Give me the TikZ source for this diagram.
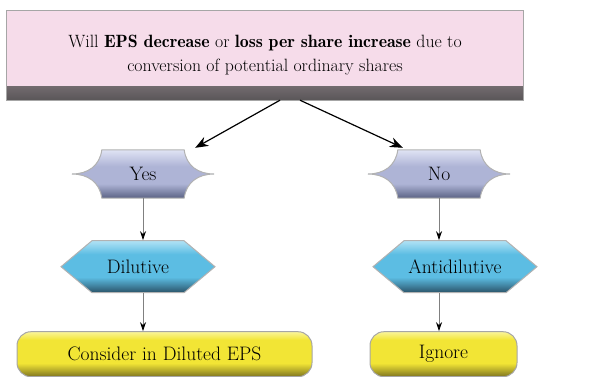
\documentclass[tikz,border=0pt]{standalone}
\usepackage{tikz}
\usetikzlibrary{arrows.meta,positioning,shapes.symbols,backgrounds}
\definecolor{qpink}{HTML}{F6DCEA}
\definecolor{qgray}{HTML}{5A5658}
\definecolor{ansTop}{HTML}{E0E3F4}
\definecolor{ansMid}{HTML}{AEB4D6}
\definecolor{ansBot}{HTML}{5A6284}
\definecolor{resTop}{HTML}{B0E2F5}
\definecolor{resMid}{HTML}{5CBDE3}
\definecolor{resBot}{HTML}{2A5268}
\definecolor{actTop}{HTML}{FAF59A}
\definecolor{actMid}{HTML}{F2E535}
\definecolor{actBot}{HTML}{7E7420}
\pgfdeclareverticalshading{ansshade}{100bp}{color(0bp)=(ansBot); color(25bp)=(ansBot); color(40bp)=(ansMid); color(58bp)=(ansMid); color(75bp)=(ansTop); color(100bp)=(ansTop)}
\pgfdeclareverticalshading{resshade}{100bp}{color(0bp)=(resBot); color(25bp)=(resBot); color(40bp)=(resMid); color(62bp)=(resMid); color(75bp)=(resTop); color(100bp)=(resTop)}
\pgfdeclareverticalshading{actshade}{100bp}{color(0bp)=(actBot); color(25bp)=(actBot); color(40bp)=(actMid); color(66bp)=(actMid); color(75bp)=(actTop); color(100bp)=(actTop)}
\newcommand{\demi}[1]{{\fontseries{b}\selectfont #1}}

\begin{document}
\begin{tikzpicture}[x=1pt, y=1pt, >=Stealth, font=\fontsize{19.5}{24}\selectfont,
    question/.style={rectangle, draw=gray!70, fill=qpink, minimum width=517, minimum height=90, align=center,
      font=\fontsize{17.8}{24}\selectfont,
      path picture={\shade[top color=qpink, bottom color=qgray] ([yshift=14]path picture bounding box.south west) rectangle (path picture bounding box.south east);}},
    answer/.style={rectangle, minimum width=82, minimum height=48, inner sep=0pt},
    result/.style={signal, signal to=east and west, signal pointer angle=80, draw=gray!60, line width=1pt,
      shading=resshade, minimum height=52, inner sep=2pt},
    action/.style={rectangle, rounded corners=14, draw=gray!70, line width=1pt,
      shading=actshade, minimum height=45},
    split/.style={line width=1.2pt, -{Stealth[length=13, width=10]}},
    flow/.style={draw=gray, line width=0.8pt, -{Stealth[black, length=9, width=6]}}]
  \useasboundingbox (0,0) rectangle (608,-376);

  \node[question] (q) at (265,-55) {Will \demi{EPS decrease} or \demi{loss per share increase} due to\\conversion of potential ordinary shares};
  \node[answer] (yes) at (143,-174) {Yes};
  \node[answer] (no) at (439,-174) {No};
  \node[result, minimum width=154] (dil) [below=42 of yes, xshift=-5] {Dilutive};
  \node[result, minimum width=164] (anti) [below=42 of no, xshift=16] {Antidilutive};
  \node[action, minimum width=295] (cons) [below=38 of dil, xshift=26.5] {Consider in Diluted EPS};
  \node[action, minimum width=147] (ign) [below=38 of anti, xshift=-11.5] {Ignore};

  % yes / no outlines
  \begin{scope}[on background layer]
    \foreach \n in {yes,no}
      \shadedraw[draw=gray!60, line width=1pt, shading=ansshade]
        (\n.north west) -- (\n.north east)
        .. controls ([xshift=2,yshift=-16]\n.north east) and ([xshift=14]\n.east) .. ([xshift=30]\n.east)
        .. controls ([xshift=14]\n.east) and ([xshift=2,yshift=16]\n.south east) .. (\n.south east)
        -- (\n.south west)
        .. controls ([xshift=-2,yshift=16]\n.south west) and ([xshift=-14]\n.west) .. ([xshift=-30]\n.west)
        .. controls ([xshift=-14]\n.west) and ([xshift=-2,yshift=-16]\n.north west) .. cycle;
  \end{scope}

  \coordinate (qL) at ([xshift=15]q.south);
  \coordinate (qR) at ([xshift=35]q.south);
  \draw[split] (qL) -- ([xshift=11,yshift=2]yes.north east);
  \draw[split] (qR) -- ([xshift=5,yshift=2]no.north west);

  \draw[flow] (yes.south) -- (yes.south |- dil.north);
  \draw[flow] (no.south) -- (no.south |- anti.north);
  \draw[flow] (yes.south |- dil.south) -- (yes.south |- cons.north);
  \draw[flow] (no.south |- anti.south) -- (no.south |- ign.north);
\end{tikzpicture}
\end{document}
